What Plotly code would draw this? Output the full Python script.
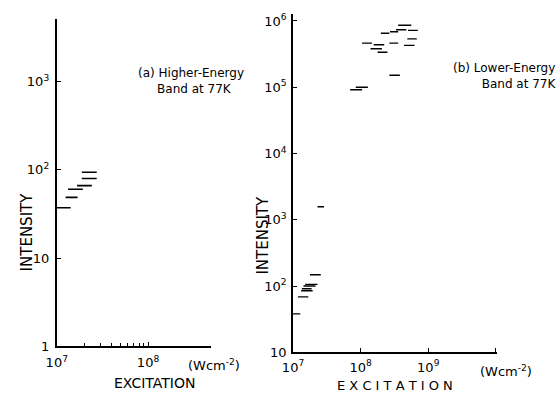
import plotly.graph_objects as go

# ---------- Panel (a): Higher-Energy Band at 77K ----------
a_intensity = [37.2, 48.8, 60.3, 66.2, 79.8, 94.0]
a_exc_lo = [1.00e7, 1.25e7, 1.33e7, 1.67e7, 1.88e7, 1.88e7]
a_exc_hi = [1.42e7, 1.69e7, 1.93e7, 2.42e7, 2.74e7, 2.74e7]

# ---------- Panel (b): Lower-Energy Band at 77K ----------
b_intensity = [8.63e5, 7.36e5, 7.21e5, 6.89e5, 6.52e5, 5.37e5, 4.63e5, 4.63e5,
               4.38e5, 4.28e5, 3.82e5, 3.37e5, 1.52e5, 1.00e5, 9.16e4,
               1570, 148, 106, 100, 91, 85, 68.5, 38]
b_exc_lo = [3.59e8, 3.33e8, 5.01e8, 2.72e8, 1.99e8, 4.90e8, 1.05e8, 2.66e8,
            1.56e8, 4.39e8, 1.40e8, 1.78e8, 2.66e8, 8.47e7, 7.00e7,
            2.30e7, 1.78e7, 1.51e7, 1.43e7, 1.35e7, 1.32e7, 1.18e7, 1.00e7]
b_exc_hi = [5.60e8, 4.73e8, 7.00e8, 3.59e8, 2.66e8, 6.76e8, 1.47e8, 3.59e8,
            2.23e8, 6.27e8, 2.06e8, 2.49e8, 3.80e8, 1.28e8, 1.05e8,
            2.87e7, 2.57e7, 2.30e7, 2.15e7, 1.88e7, 1.95e7, 1.68e7, 1.28e7]

a_ytick_vals = [1, 10, 100, 1000]
a_ytick_text = ["1", "10", "10<sup>2</sup>", "10<sup>3</sup>"]
a_xtick_vals = [1e7, 1e8]
a_xtick_text = ["10<sup>7</sup>", "10<sup>8</sup>"]
a_xminor_vals = [2e7, 3e7, 4e7, 5e7, 6e7, 7e7, 8e7, 9e7]

b_ytick_vals = [10, 1e2, 1e3, 1e4, 1e5, 1e6]
b_ytick_text = ["10", "10<sup>2</sup>", "10<sup>3</sup>", "10<sup>4</sup>", "10<sup>5</sup>", "10<sup>6</sup>"]
b_xtick_vals = [1e7, 1e8, 1e9, 1e10]
b_xtick_text = ["10<sup>7</sup>", "10<sup>8</sup>", "10<sup>9</sup>", ""]


def segments(lo, hi, yv):
    xs, ys = [], []
    for x0, x1, y in zip(lo, hi, yv):
        xs += [x0, x1, None]
        ys += [y, y, None]
    return xs, ys


FONT = "DejaVu Sans"
fig = go.Figure()

xa, ya = segments(a_exc_lo, a_exc_hi, a_intensity)
fig.add_trace(go.Scatter(x=xa, y=ya, mode="lines", line=dict(color="black", width=1.6),
                         xaxis="x", yaxis="y", showlegend=False, hoverinfo="skip"))
xb, yb = segments(b_exc_lo, b_exc_hi, b_intensity)
fig.add_trace(go.Scatter(x=xb, y=yb, mode="lines", line=dict(color="black", width=1.4),
                         xaxis="x2", yaxis="y2", showlegend=False, hoverinfo="skip"))

W, H = 559, 402


def fx(px):
    return px / W


def fy(py):
    return (H - py) / H


common = dict(showgrid=False, zeroline=False, showline=True, linecolor="black",
              ticks="inside", ticklen=4, tickwidth=1.3, tickcolor="black",
              tickfont=dict(family=FONT, size=13, color="black"), mirror=False)

fig.update_layout(
    width=W, height=H, margin=dict(l=0, r=0, t=0, b=0),
    paper_bgcolor="white", plot_bgcolor="white", showlegend=False,
    xaxis=dict(type="log", range=[7, 8.69], domain=[fx(46.7), fx(204)], anchor="y",
               tickmode="array", tickvals=a_xtick_vals, ticktext=a_xtick_text,
               linewidth=2, ticklabelstandoff=3,
               minor=dict(tickmode="array", tickvals=a_xminor_vals, ticks="inside",
                          ticklen=3, tickwidth=1.3, tickcolor="black"),
               **common),
    yaxis=dict(type="log", range=[0, 3.71], domain=[fy(353.3), fy(18.3)], anchor="x",
               tickmode="array", tickvals=a_ytick_vals, ticktext=a_ytick_text,
               linewidth=2, ticklabelstandoff=3, **common),
    xaxis2=dict(type="log", range=[7, 10.02], domain=[fx(287.7), fx(496)], anchor="y2",
                tickmode="array", tickvals=b_xtick_vals, ticktext=b_xtick_text,
                linewidth=1.6, ticklabelstandoff=2, **common),
    yaxis2=dict(type="log", range=[1, 6.11], domain=[fy(359.3), fy(13)], anchor="x2",
                tickmode="array", tickvals=b_ytick_vals, ticktext=b_ytick_text,
                linewidth=1.6, ticklabelstandoff=2, **common),
)


def note(text, px, py, size=12, angle=0, xanchor="center", align="center"):
    fig.add_annotation(text=text, x=fx(px), y=fy(py), xref="paper", yref="paper",
                       showarrow=False, textangle=angle, xanchor=xanchor, yanchor="middle",
                       align=align,
                       font=dict(family=FONT, size=size, color="black"))


# panel (a) texts
note("INTENSITY", 16, 236, size=15, angle=-90)
note("EXCITATION", 146, 391, size=14)
note("(Wcm<sup>-2</sup>)", 207, 372, size=13)
note("(a) Higher-Energy<br>     Band at 77K", 128, 82, size=12, xanchor="left", align="left")

# panel (b) texts
note("INTENSITY", 257, 239, size=15, angle=-90)
note("E X C I T A T I O N", 392, 393, size=13)
note("(Wcm<sup>-2</sup>)", 505, 378, size=13)
note("(b) Lower-Energy<br>Band at 77K", 558, 77, size=12, xanchor="right", align="right")

fig.write_html("out.html")
